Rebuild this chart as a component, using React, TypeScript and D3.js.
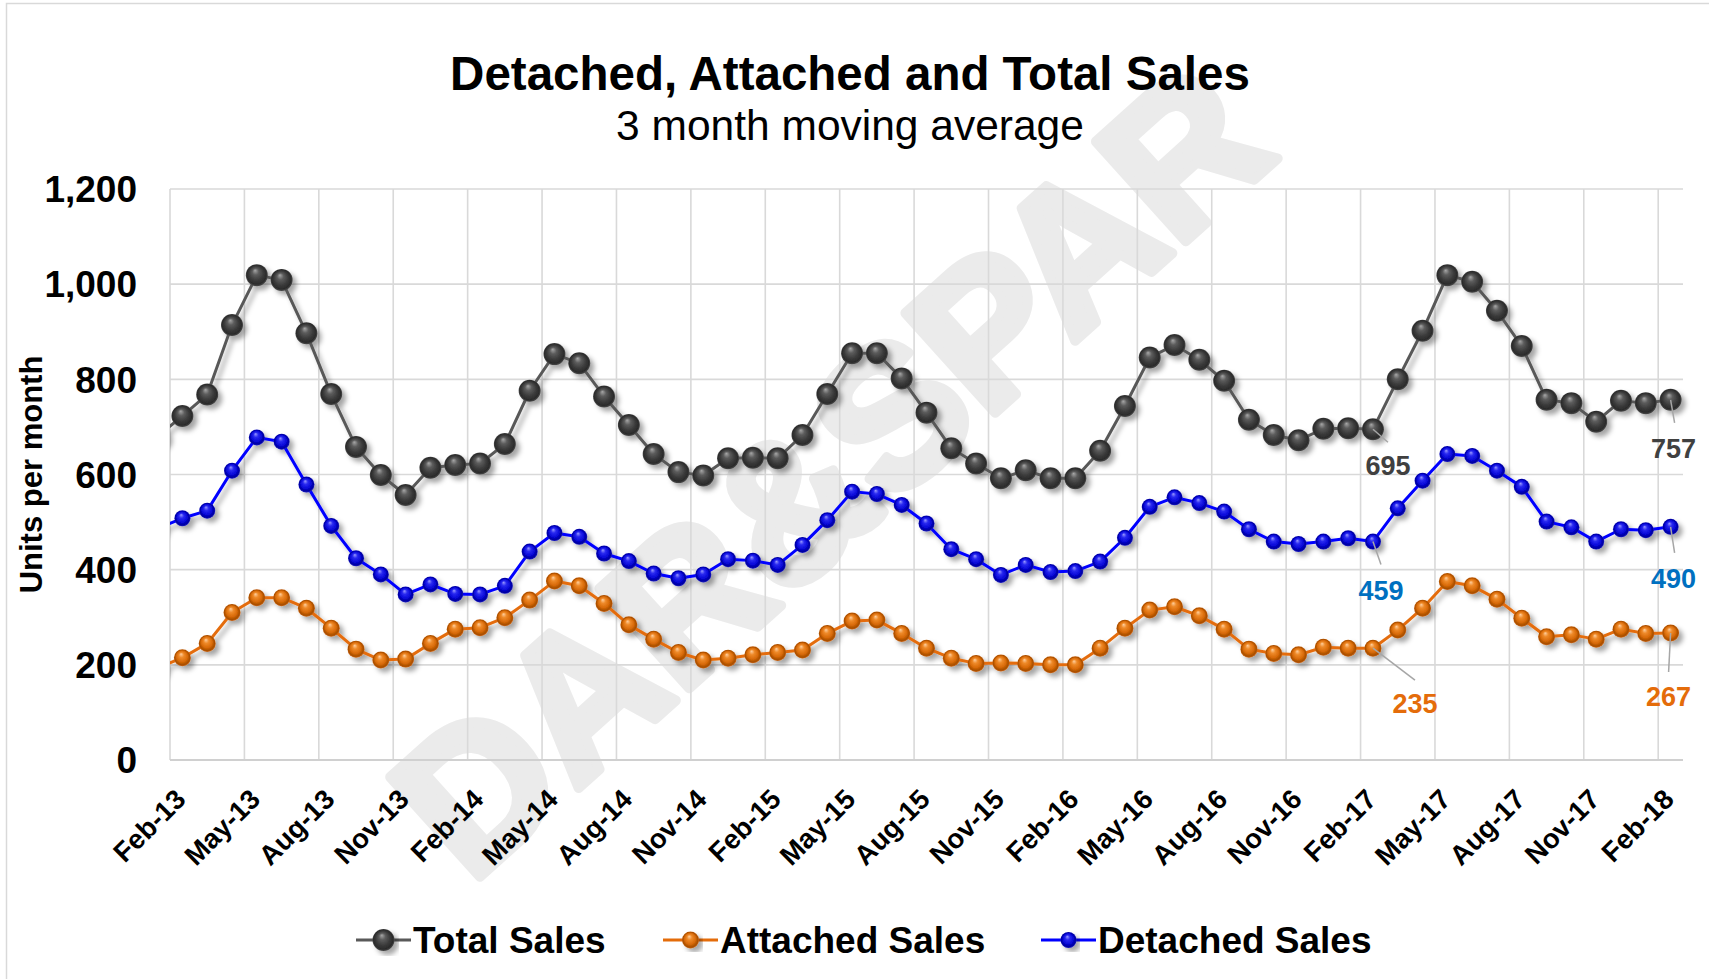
import React from "react";
import * as d3 from "d3";

// ---------- DATA ----------
const months = [
  "Jan-13", "Feb-13", "Mar-13", "Apr-13", "May-13", "Jun-13", "Jul-13", "Aug-13", "Sep-13", "Oct-13", "Nov-13", "Dec-13",
  "Jan-14", "Feb-14", "Mar-14", "Apr-14", "May-14", "Jun-14", "Jul-14", "Aug-14", "Sep-14", "Oct-14", "Nov-14", "Dec-14",
  "Jan-15", "Feb-15", "Mar-15", "Apr-15", "May-15", "Jun-15", "Jul-15", "Aug-15", "Sep-15", "Oct-15", "Nov-15", "Dec-15",
  "Jan-16", "Feb-16", "Mar-16", "Apr-16", "May-16", "Jun-16", "Jul-16", "Aug-16", "Sep-16", "Oct-16", "Nov-16", "Dec-16",
  "Jan-17", "Feb-17", "Mar-17", "Apr-17", "May-17", "Jun-17", "Jul-17", "Aug-17", "Sep-17", "Oct-17", "Nov-17", "Dec-17",
  "Jan-18", "Feb-18",
];

const totalSales = [
  680, 723, 768, 914, 1019, 1009, 897, 769, 658, 599, 557, 614,
  620, 623, 664, 776, 853, 834, 764, 704, 643, 605, 598, 634,
  635, 634, 683, 769, 855, 855, 802, 730, 655, 623, 592, 609,
  592, 592, 650, 744, 846, 872, 841, 797, 715, 683, 672, 696,
  697, 695, 800, 902, 1019, 1005, 944, 870, 757, 750, 711, 755,
  750, 757,
];

const attachedSales = [
  193, 215, 245, 310, 341, 341, 319, 277, 233, 210, 212, 245,
  275, 278, 299, 336, 376, 366, 329, 284, 254, 226, 210, 214,
  221, 226, 231, 266, 292, 294, 266, 235, 214, 203, 204, 203,
  200, 200, 235, 277, 315, 322, 303, 275, 233, 224, 221, 237,
  235, 235, 273, 319, 375, 366, 338, 298, 259, 263, 254, 275,
  266, 267,
];

const detachedSales = [
  487, 508, 524, 608, 678, 669, 579, 492, 424, 390, 348, 369,
  349, 348, 366, 438, 477, 469, 434, 418, 392, 382, 390, 422,
  419, 410, 452, 504, 564, 559, 536, 497, 443, 422, 389, 410,
  395, 397, 417, 467, 532, 552, 540, 522, 485, 459, 454, 459,
  466, 459, 529, 587, 643, 639, 608, 574, 501, 489, 459, 485,
  483, 490,
];

const yTicks = [0, 200, 400, 600, 800, 1000, 1200];

const xTickLabels = [
  "Feb-13", "May-13", "Aug-13", "Nov-13", "Feb-14", "May-14", "Aug-14", "Nov-14",
  "Feb-15", "May-15", "Aug-15", "Nov-15", "Feb-16", "May-16", "Aug-16", "Nov-16",
  "Feb-17", "May-17", "Aug-17", "Nov-17", "Feb-18",
];

const seriesNames = ["Total Sales", "Attached Sales", "Detached Sales"];
const labelledMonths = ["Feb-17", "Feb-18"];
const watermarkText = "DAR&SPAR";

// ---------- STYLE ----------
const W = 1709;
const H = 979;
const plot = { left: 170, right: 1683, top: 189, bottom: 760 };
const FONT = "'Liberation Sans', Arial, Helvetica, sans-serif";

const seriesStyle = [
  { key: "total", data: totalSales, line: "#595959", r: 11, grad: "gTotal", label: "#404040",
    stops: ["#a8a8a8", "#5c5c5c", "#3a3a3a", "#2b2b2b", "#4a4a4a"] },
  { key: "attached", data: attachedSales, line: "#E46C0A", r: 8.5, grad: "gAtt", label: "#E46C0A",
    stops: ["#ffd0a0", "#ee8a2a", "#d86a08", "#a84e00", "#c86412"] },
  { key: "detached", data: detachedSales, line: "#0000FF", r: 8, grad: "gDet", label: "#0070C0",
    stops: ["#9a9aff", "#2a2af0", "#0808d8", "#0000a0", "#1a1ac0"] },
];

// label offsets relative to the marker: [labelDx, labelDy(baseline), leaderDx, leaderDy]
const labelOffsets: Record<string, number[][]> = {
  total: [[15, 46, 15, 13], [3, 58, 4, 23]],
  attached: [[42, 65, 42, 32], [-2, 73, -2, 39]],
  detached: [[8, 58, 8, 23], [3, 61, 4, 26]],
};

const legendX = [356, 663, 1041];

export default function App() {
  const x = d3.scaleLinear().domain([0.5, months.length - 0.5]).range([plot.left, plot.right]);
  const y = d3.scaleLinear().domain([0, 1200]).range([plot.bottom, plot.top]);

  const line = d3
    .line<number>()
    .x((_, i) => x(i))
    .y((d) => y(d));

  const vGrid = d3.range(0.5, months.length - 0.5, 3);

  return (
    <svg
      width={W}
      height={H}
      viewBox={`0 0 ${W} ${H}`}
      style={{ position: "absolute", left: 0, top: 0, display: "block", background: "#fff" }}
    >
      <defs>
        {seriesStyle.map((s) => (
          <radialGradient key={s.grad} id={s.grad} cx="50%" cy="50%" r="50%" fx="42%" fy="28%">
            <stop offset="0%" stopColor={s.stops[0]} />
            <stop offset="30%" stopColor={s.stops[1]} />
            <stop offset="65%" stopColor={s.stops[2]} />
            <stop offset="88%" stopColor={s.stops[3]} />
            <stop offset="100%" stopColor={s.stops[4]} />
          </radialGradient>
        ))}
        <filter id="shadow" x="-20%" y="-20%" width="140%" height="140%">
          <feDropShadow dx="4" dy="4" stdDeviation="2.5" floodColor="#000" floodOpacity="0.35" />
        </filter>
        <clipPath id="plotClip">
          <rect x={plot.left} y={0} width={plot.right - plot.left + 20} height={H} />
        </clipPath>
      </defs>

      <rect x={0} y={0} width={W} height={H} fill="#fff" />
      <rect x={6.5} y={3.5} width={W + 40} height={H + 40} fill="none" stroke="#D9D9D9" strokeWidth={1.5} />

      {/* watermark */}
      <text
        x={0}
        y={0}
        transform="translate(830,470) rotate(-42)"
        textAnchor="middle"
        dominantBaseline="central"
        fontFamily={FONT}
        fontWeight="bold"
        fontSize={195}
        fill="#EBEBEB"
        stroke="#EBEBEB"
        strokeWidth={10}
        strokeLinejoin="round"
      >
        {watermarkText}
      </text>

      {/* title */}
      <text x={850} y={90} textAnchor="middle" fontFamily={FONT} fontWeight="bold" fontSize={47.5} fill="#000">
        Detached, Attached and Total Sales
      </text>
      <text x={850} y={140} textAnchor="middle" fontFamily={FONT} fontSize={42.5} fill="#000">
        3 month moving average
      </text>

      {/* gridlines */}
      <g stroke="#D9D9D9" strokeWidth={1.6}>
        {yTicks.map((t) => (
          <line key={"h" + t} x1={plot.left} x2={plot.right} y1={y(t)} y2={y(t)} />
        ))}
        {vGrid.map((g) => (
          <line key={"v" + g} x1={x(g)} x2={x(g)} y1={plot.top} y2={plot.bottom} />
        ))}
      </g>
      <line x1={plot.left} x2={plot.right} y1={plot.bottom} y2={plot.bottom} stroke="#D0D0D0" strokeWidth={2} />

      {/* y ticks */}
      {yTicks.map((t) => (
        <text
          key={"yt" + t}
          x={137}
          y={y(t)}
          dy="0.36em"
          textAnchor="end"
          fontFamily={FONT}
          fontWeight="bold"
          fontSize={37}
          fill="#000"
        >
          {d3.format(",")(t)}
        </text>
      ))}

      {/* y axis title */}
      <text
        transform={`translate(42,${(plot.top + plot.bottom) / 2}) rotate(-90)`}
        textAnchor="middle"
        fontFamily={FONT}
        fontWeight="bold"
        fontSize={31}
        fill="#000"
      >
        Units per month
      </text>

      {/* x tick labels */}
      {xTickLabels.map((lab) => {
        const i = months.indexOf(lab);
        return (
          <text
            key={"xt" + lab}
            transform={`translate(${x(i) - 2},794) rotate(-45)`}
            dy="0.36em"
            textAnchor="end"
            fontFamily={FONT}
            fontWeight="bold"
            fontSize={27.5}
            fill="#000"
          >
            {lab}
          </text>
        );
      })}

      {/* series */}
      <g clipPath="url(#plotClip)">
        {seriesStyle.map((s) => (
          <g key={s.key} filter="url(#shadow)">
            <path d={line(s.data) || ""} fill="none" stroke={s.line} strokeWidth={3} strokeLinejoin="round" />
            {s.data.map((v, i) => (
              <circle key={i} cx={x(i)} cy={y(v)} r={s.r} fill={`url(#${s.grad})`} />
            ))}
          </g>
        ))}
      </g>

      {/* data labels */}
      {seriesStyle.map((s) =>
        labelledMonths.map((m, k) => {
          const i = months.indexOf(m);
          const cx = x(i);
          const cy = y(s.data[i]);
          const o = labelOffsets[s.key][k];
          return (
            <g key={s.key + m}>
              <line x1={cx} y1={cy} x2={cx + o[2]} y2={cy + o[3]} stroke="#A6A6A6" strokeWidth={1.5} />
              <text
                x={cx + o[0]}
                y={cy + o[1]}
                textAnchor="middle"
                fontFamily={FONT}
                fontWeight="bold"
                fontSize={27}
                fill={s.label}
              >
                {d3.format(",")(s.data[i])}
              </text>
            </g>
          );
        })
      )}

      {/* legend */}
      {seriesStyle.map((s, k) => {
        const lx = legendX[k];
        return (
          <g key={"lg" + s.key}>
            <line x1={lx} x2={lx + 55} y1={940} y2={940} stroke={s.line} strokeWidth={3} />
            <circle cx={lx + 27.5} cy={940} r={s.r} fill={`url(#${s.grad})`} filter="url(#shadow)" />
            <text x={lx + 57} y={953} fontFamily={FONT} fontWeight="bold" fontSize={37} fill="#000">
              {seriesNames[k]}
            </text>
          </g>
        );
      })}
    </svg>
  );
}
